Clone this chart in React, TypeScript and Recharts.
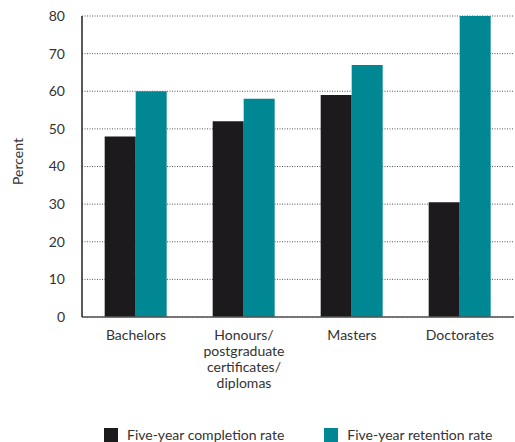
import React from 'react';
import { BarChart, Bar, XAxis, YAxis, CartesianGrid, Legend } from 'recharts';

const categories = ['Bachelors', 'Honours/ postgraduate certificates/ diplomas', 'Masters', 'Doctorates'];
const completionRate = [48, 52, 59, 30.5];
const retentionRate = [60, 58, 67, 80];
const yTicks = [0, 10, 20, 30, 40, 50, 60, 70, 80];
const boundaryTicks = [0, 1, 2, 3, 4];

const COMPLETION = '#1c1a1d';
const RETENTION = '#008794';
const FONT = 'Lato, "Open Sans", sans-serif';

const data = categories.map((name, i) => ({
  name,
  completion: completionRate[i],
  retention: retentionRate[i],
}));

// wraps category labels on spaces, one word per line
const CategoryTick = (props: any) => {
  const { x, y, payload } = props;
  const lines = String(payload.value).split(' ');
  return (
    <text x={x} y={y} textAnchor="middle" fill="#333" fontSize={14} fontFamily={FONT}>
      {lines.map((line, i) => (
        <tspan key={i} x={x} dy={i === 0 ? 22 : 16}>
          {line}
        </tspan>
      ))}
    </text>
  );
};

const LegendContent = () => (
  <div style={{ display: 'flex', whiteSpace: 'nowrap', paddingLeft: 104, paddingTop: 16, fontFamily: FONT, fontSize: 14, color: '#333' }}>
    {[
      { label: 'Five-year completion rate', color: COMPLETION },
      { label: 'Five-year retention rate', color: RETENTION },
    ].map((item, i) => (
      <div key={i} style={{ display: 'flex', alignItems: 'center', marginRight: 40 }}>
        <span style={{ width: 14, height: 14, background: item.color, display: 'inline-block', marginRight: 9, flexShrink: 0 }} />
        <span>{item.label}</span>
      </div>
    ))}
  </div>
);

const PercentLabel = (props: any) => {
  const { viewBox } = props;
  const cx = 19;
  const cy = viewBox.y + viewBox.height / 2 - 5;
  return (
    <text x={cx} y={cy} transform={`rotate(-90 ${cx} ${cy})`} textAnchor="middle" dominantBaseline="middle" fill="#333" fontSize={14} fontFamily={FONT}>
      Percent
    </text>
  );
};

export default function App() {
  return (
    <div style={{ position: 'absolute', left: 0, top: 0, background: '#fff' }}>
      <BarChart
        width={515}
        height={442}
        data={data}
        margin={{ top: 16, right: 1, left: 0, bottom: 0 }}
        barCategoryGap="21%"
        barGap={0}
      >
        <CartesianGrid xAxisId="cat" yAxisId="y" vertical={false} stroke="#555" strokeDasharray="1 1.5" />
        <XAxis
          xAxisId="cat"
          dataKey="name"
          height={92}
          axisLine={false}
          tickLine={false}
          tickSize={0}
          tickMargin={0}
          interval={0}
          tick={<CategoryTick />}
        />
        <XAxis
          xAxisId="a"
          type="number"
          domain={[0, 4]}
          ticks={boundaryTicks}
          tick={false}
          height={1}
          axisLine={{ stroke: '#555', strokeWidth: 1.5 }}
          tickLine={{ stroke: '#555', strokeWidth: 1.5 }}
          tickSize={5}
        />
        <YAxis
          yAxisId="y"
          width={82}
          domain={[0, 80]}
          ticks={yTicks}
          interval={0}
          axisLine={{ stroke: '#222', strokeWidth: 1.5 }}
          tickLine={false}
          tickSize={0}
          tickMargin={17}
          tick={{ fill: '#333', fontSize: 14, fontFamily: FONT }}
          label={<PercentLabel />}
        />
        <Legend verticalAlign="bottom" height={32} content={<LegendContent />} />
        <Bar xAxisId="cat" yAxisId="y" dataKey="completion" fill={COMPLETION} isAnimationActive={false} />
        <Bar xAxisId="cat" yAxisId="y" dataKey="retention" fill={RETENTION} isAnimationActive={false} />
      </BarChart>
    </div>
  );
}
